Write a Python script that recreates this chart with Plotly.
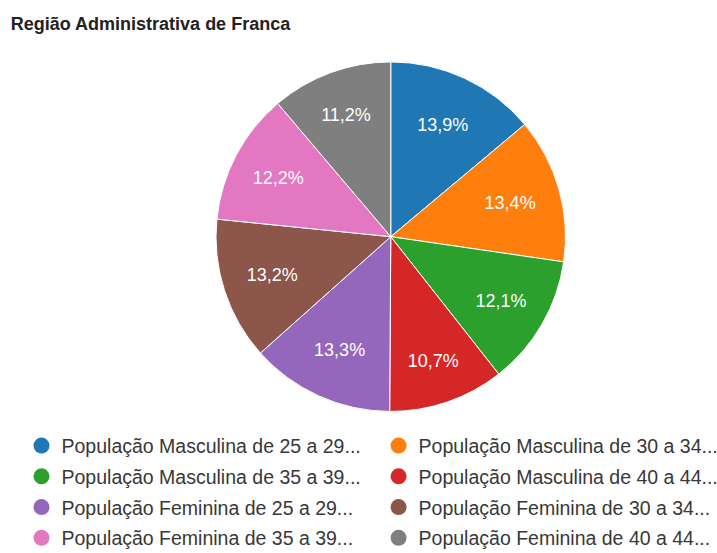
import plotly.graph_objects as go

title = "Região Administrativa de Franca"
labels = [
    "População Masculina de 25 a 29...",
    "População Masculina de 30 a 34...",
    "População Masculina de 35 a 39...",
    "População Masculina de 40 a 44...",
    "População Feminina de 25 a 29...",
    "População Feminina de 30 a 34...",
    "População Feminina de 35 a 39...",
    "População Feminina de 40 a 44...",
]
values = [13.9, 13.4, 12.1, 10.7, 13.3, 13.2, 12.2, 11.2]
colors = ["#1f77b4", "#ff7f0e", "#2ca02c", "#d62728",
          "#9467bd", "#8c564b", "#e377c2", "#7f7f7f"]

fig = go.Figure()
fig.add_trace(go.Pie(
    labels=labels, values=values, sort=False, direction="clockwise", rotation=0,
    marker=dict(colors=colors, line=dict(color="white", width=1)),
    texttemplate="%{percent:.1%}", textposition="inside",
    insidetextorientation="horizontal",
    textfont=dict(color="white", size=18, family="Liberation Sans, Arial"),
    showlegend=False, hoverinfo="label+percent",
    domain=dict(x=[0.30, 0.79], y=[0.256, 0.888]),
))

# legend entries (circle markers), two columns
for i, (lab, col) in enumerate(zip(labels, colors)):
    fig.add_trace(go.Scatter(
        x=[None], y=[None], mode="markers", name=lab,
        marker=dict(color=col, size=17, symbol="circle"),
        legendgroup=f"g{i}", legend="legend" if i % 2 == 0 else "legend2",
        showlegend=True,
    ))

legend_common = dict(
    orientation="v", yanchor="top", xanchor="left", tracegroupgap=2.4,
    font=dict(size=19.5, color="#383838", family="Liberation Sans, Arial"),
    bgcolor="rgba(0,0,0,0)", itemclick=False, itemdoubleclick=False,
)
fig.update_layout(
    width=717, height=553,
    margin=dict(l=0, r=0, t=0, b=0, autoexpand=False),
    paper_bgcolor="white", plot_bgcolor="white",
    separators=",.",
    title=dict(text=f"<b>{title}</b>", x=0.015, xanchor="left", y=0.958, yanchor="middle",
               font=dict(size=18, color="#222", family="Liberation Sans, Arial")),
    xaxis=dict(visible=False), yaxis=dict(visible=False),
    legend=dict(x=0.030, y=0.229, **legend_common),
    legend2=dict(x=0.528, y=0.229, **legend_common),
)

fig.write_html("out.html", config={"displayModeBar": False},
               post_script="document.body.style.margin='0';")
